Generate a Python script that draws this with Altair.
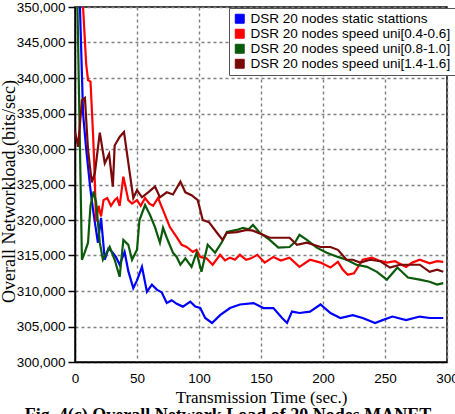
import altair as alt
import pandas as pd

series_names = [
    "DSR 20 nodes static stattions",
    "DSR 20 nodes speed uni[0.4-0.6]",
    "DSR 20 nodes speed uni[0.8-1.0]",
    "DSR 20 nodes speed uni[1.4-1.6]",
]
series_colors = ["#0000FF", "#FF0000", "#0B5A0B", "#7A0A0A"]

blue_t = [2, 4, 6.5, 9, 12, 13.5, 16, 18.5, 21, 24, 27, 30, 33, 36, 40, 43, 47, 50, 54, 58, 62, 66, 70, 74, 78, 82, 87, 93, 97, 101, 105, 110.5, 117, 125, 133, 144, 152, 160, 167, 171, 175, 181, 189.5, 198, 206, 214, 224, 232, 242, 248, 256, 267, 278, 286, 297]
blue_v = [362000, 350000, 335000, 330000, 325000, 322800, 319700, 316800, 320300, 314400, 316000, 315500, 314800, 313700, 315500, 312800, 310400, 311500, 313400, 309900, 310900, 310200, 309800, 308300, 308700, 308200, 307800, 308500, 307800, 307600, 306200, 305500, 306600, 307600, 308100, 308300, 307600, 307600, 306200, 305500, 307100, 306900, 307100, 308100, 306900, 306200, 306600, 306200, 305500, 305900, 306400, 305900, 306400, 306200, 306200]

red_t = [4, 6.5, 9, 10.5, 12.5, 14.5, 15.5, 17, 19, 21, 23, 26, 29, 32, 34, 36, 39, 43, 46, 50, 53, 56.5, 60, 63, 67, 71, 76.5, 82, 86, 90, 95, 98, 101, 106, 111, 117, 121, 125, 129, 133, 138, 142, 147, 153, 160, 166, 173, 181, 189.5, 198, 206, 212, 216, 220, 225, 232, 239.5, 245, 251.5, 258, 267, 272, 278, 286, 292, 297]
red_v = [362000, 350000, 342000, 339700, 339500, 332300, 328000, 319800, 322000, 320500, 322800, 323100, 322000, 322800, 323100, 322000, 326100, 322800, 322300, 322800, 322000, 323100, 322300, 322000, 323100, 321400, 319000, 317600, 316500, 316200, 315500, 315800, 314800, 314600, 313700, 315100, 314300, 314700, 314400, 315100, 314400, 314600, 315100, 314000, 314800, 314300, 314700, 313400, 314400, 314000, 313300, 314100, 313000, 312300, 312500, 314400, 314700, 314300, 314000, 314200, 313400, 314000, 314400, 313900, 314200, 314100]

green_t = [0.5, 2, 5.6, 8, 10.5, 12.5, 15, 17, 20, 22.5, 25, 28, 32, 36, 39, 43, 46, 50, 52, 56.5, 60.5, 64.5, 68.5, 71, 74, 79, 82, 85, 89, 94, 98, 102, 107, 113, 118.5, 122.5, 130.5, 135.5, 140, 143.5, 149, 157, 164, 173, 178, 181, 187, 195, 203, 212, 219, 227, 235.5, 243.5, 251.5, 256, 260, 268.5, 278, 286, 292, 297]
green_v = [362000, 350000, 314400, 315500, 316800, 322000, 324000, 322500, 316800, 314400, 315200, 316200, 314400, 312000, 317200, 316500, 314400, 315800, 320000, 322100, 320700, 319000, 316800, 318900, 317500, 315400, 314800, 313700, 314600, 313400, 315400, 312700, 316500, 315400, 316900, 318300, 318600, 318900, 318700, 319300, 318200, 317200, 316100, 316200, 317000, 317900, 317200, 316100, 315400, 314800, 314400, 313700, 313400, 312700, 311600, 312500, 313300, 311900, 311600, 311300, 310900, 311100]

dred_t = [0, 2.5, 5.6, 8, 10.5, 13.5, 16, 20, 24, 27.5, 30.5, 32, 36, 39.5, 44, 47, 50, 54, 59, 64.5, 68.5, 74, 79, 85, 89, 94, 99, 103, 108, 114.5, 119, 122.5, 130.5, 138.5, 143.5, 152, 157, 165, 173, 179, 187, 198, 206, 212, 219, 224, 230, 238, 246, 254, 262, 270, 278, 286, 292, 297]
dred_v = [332500, 330300, 336900, 337200, 329900, 325300, 326600, 332300, 328000, 329300, 324700, 330500, 331700, 332400, 326800, 323100, 324200, 323200, 323900, 324700, 323200, 323900, 323600, 325400, 323900, 323500, 322800, 320000, 319700, 318200, 317200, 318200, 318300, 318600, 318500, 317900, 317500, 317500, 317500, 316500, 316800, 316200, 316200, 315800, 314400, 314400, 314000, 314400, 314200, 313300, 313700, 313700, 313700, 312700, 313000, 312700]

x_ticks = [0, 50, 100, 150, 200, 250, 300]
y_ticks = [300000, 305000, 310000, 315000, 320000, 325000, 330000, 335000, 340000, 345000, 350000]

rows = []
for name, ts, vs in zip(series_names, [blue_t, red_t, green_t, dred_t], [blue_v, red_v, green_v, dred_v]):
    for t, v in zip(ts, vs):
        rows.append({"series": name, "t": t, "v": v})
df = pd.DataFrame(rows)

tick_font = "Liberation Sans, Arial"
serif = "Liberation Serif, Times New Roman"

x_enc = alt.X("t:Q", scale=alt.Scale(domain=[0, 300], nice=False),
              axis=alt.Axis(values=x_ticks, title="Transmission Time (sec.)", ticks=False,
                            labelPadding=9, labelFlush=False,
                            titleBaseline="alphabetic", titleY=40, titleX=186))
y_enc = alt.Y("v:Q", scale=alt.Scale(domain=[300000, 350000], nice=False, zero=False),
              axis=alt.Axis(values=y_ticks, format=",d", title="Overall Networkload (bits/sec)",
                            tickSize=7, labelPadding=3, titleX=-57, titleY=184))
legend = alt.Legend(title=None, orient="none", legendX=154, legendY=1,
                    symbolType="square", symbolSize=80, symbolStrokeColor="black",
                    symbolStrokeWidth=1, symbolOpacity=1, labelFont="Liberation Sans",
                    labelFontSize=13.5, labelColor="black", fillColor="white",
                    strokeColor="#555", padding=4, rowPadding=0,
                    labelLimit=300, symbolOffset=0)
color_enc = alt.Color("series:N", scale=alt.Scale(domain=series_names, range=series_colors),
                      sort=series_names, legend=legend)

base = alt.Chart(df).encode(x=x_enc, y=y_enc, color=color_enc)
lines = base.mark_line(strokeWidth=2.2, clip=True).encode(order=alt.Order("t:Q"))
swatches = base.mark_point(filled=True, shape="square", opacity=1, clip=True).transform_filter("datum.t < -1000")

chart = alt.layer(lines, swatches).properties(
    width=372, height=355,
    autosize=alt.AutoSizeParams(type="none"),
    padding={"left": 75, "top": 7, "right": 8, "bottom": 52},
    background="white",
    title=alt.TitleParams("Fig. 4(c) Overall Network Load of 20 Nodes MANET", orient="bottom",
                          font=serif, fontSize=18, fontWeight="bold", color="black",
                          anchor="middle", offset=2, dx=-33),
).configure_view(
    stroke="black", strokeWidth=1.5
).configure_axis(
    domainColor="black", domainWidth=1.5, tickColor="black", tickWidth=1.5,
    gridColor="#808080", gridDash=[3, 3], gridWidth=1.4,
    labelFont=tick_font, labelFontSize=13.5, labelColor="black",
    titleFont=serif, titleFontSize=17, titleFontWeight="normal", titleColor="black",
).configure_axisY(
    titleFontSize=18
)

chart.save("out.html", embed_options={"renderer": "svg", "actions": False})
